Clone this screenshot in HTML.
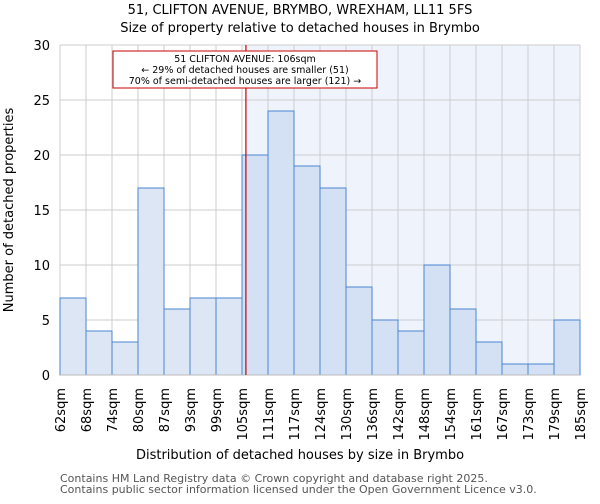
<!DOCTYPE html>
<html><head><meta charset="utf-8"><style>
body{margin:0;background:#fff;font-family:"DejaVu Sans","Liberation Sans",sans-serif}
svg text{font-family:"DejaVu Sans","Liberation Sans",sans-serif}
</style></head><body>
<svg id="c" width="600" height="500" xmlns="http://www.w3.org/2000/svg">
<text x="300" y="14" text-anchor="middle" font-size="13">51, CLIFTON AVENUE, BRYMBO, WREXHAM, LL11 5FS</text>
<text x="300" y="32" text-anchor="middle" font-size="13">Size of property relative to detached houses in Brymbo</text>
<g id="grid"></g><g id="bars"></g><g id="ax"></g>
<text x="300" y="459" text-anchor="middle" font-size="13">Distribution of detached houses by size in Brymbo</text>
<text transform="translate(13,210) rotate(-90)" text-anchor="middle" font-size="13">Number of detached properties</text>
<text x="60" y="482" font-size="11" fill="#555">Contains HM Land Registry data © Crown copyright and database right 2025.</text>
<text x="60" y="493" font-size="11" fill="#555">Contains public sector information licensed under the Open Government Licence v3.0.</text>
</svg>
<script>
const labels=["62sqm","68sqm","74sqm","80sqm","87sqm","93sqm","99sqm","105sqm","111sqm","117sqm","124sqm","130sqm","136sqm","142sqm","148sqm","154sqm","161sqm","167sqm","173sqm","179sqm","185sqm"];
const counts=[7,4,3,17,6,7,7,20,24,19,17,8,5,4,10,6,3,1,1,5];
const yTicks=[0,5,10,15,20,25,30];
const propertyBin=7.15;
const NS="http://www.w3.org/2000/svg";
const L=60,R=580,T=45,B=375,yMax=30;
const bw=(R-L)/counts.length;
const xs=i=>L+i*bw, ys=v=>B-(v/yMax)*(B-T);
function mk(p,t,a){const e=document.createElementNS(NS,t);for(const k in a)e.setAttribute(k,a[k]);document.getElementById(p).appendChild(e);return e;}
const px=xs(propertyBin);
let bg=mk('grid','rect',{x:px,y:T,width:R-px,height:B-T,fill:'#eef3fc'});

yTicks.forEach(v=>{let g=mk('grid','line',{x1:L,x2:R,y1:ys(v),y2:ys(v),stroke:'#ccc'});

let t=mk('ax','text',{x:L-10,y:ys(v)+5,'text-anchor':'end','font-size':13});t.textContent=v;
});
labels.forEach((s,i)=>{let g=mk('grid','line',{x1:xs(i),x2:xs(i),y1:T,y2:B,stroke:'#ccc'});

let t=mk('ax','text',{transform:`translate(${xs(i)+5},388) rotate(-90)`,'text-anchor':'end','font-size':13});t.textContent=s;
});
counts.forEach((v,i)=>{let r=mk('bars','rect',{x:xs(i),y:ys(v),width:bw,height:B-ys(v),fill:i>=7?'#d4e0f3':'#dce6f5',stroke:'#4a86d0','stroke-width':1});
});
let bl=mk('ax','line',{x1:L,x2:R,y1:B,y2:B,stroke:'#bbb'});

let ml=mk('ax','line',{x1:px,x2:px,y1:T,y2:B,stroke:'#cc0000','stroke-width':1.2});

let box=mk('ax','rect',{x:113,y:51,width:264,height:37,fill:'#fff',stroke:'#cc0000'});

["51 CLIFTON AVENUE: 106sqm","← 29% of detached houses are smaller (51)","70% of semi-detached houses are larger (121) →"].forEach((s,i)=>{
let t=mk('ax','text',{x:245,y:62+i*11,'text-anchor':'middle','font-size':9.5});t.textContent=s;
});
</script>
</body></html>
